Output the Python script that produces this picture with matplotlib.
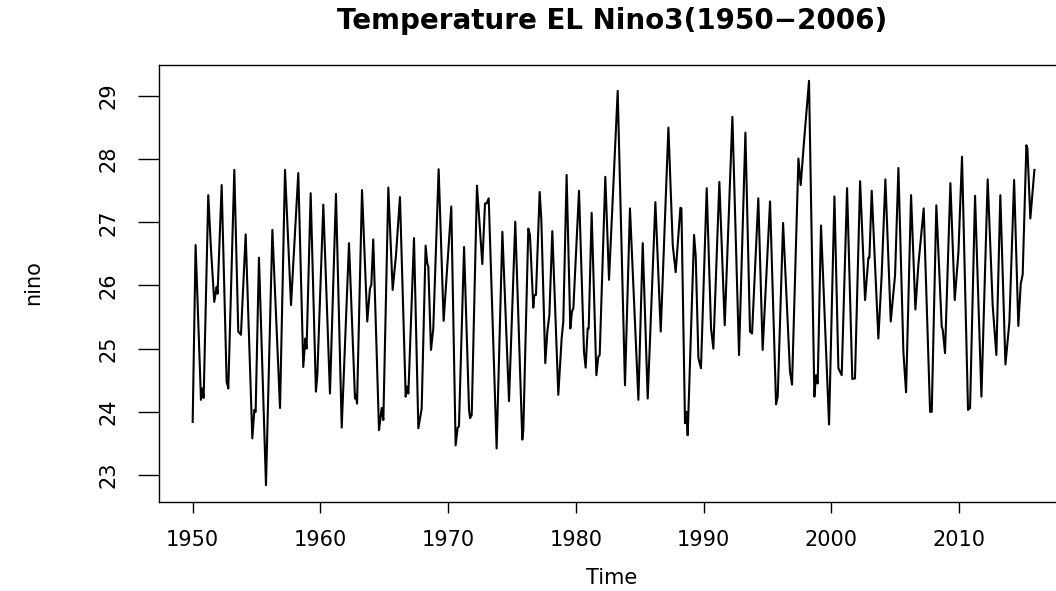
import matplotlib
matplotlib.use("Agg")
import matplotlib.pyplot as plt

# Monthly Nino3 sea surface temperature, sampled at its turning points
time = [
    1950.00, 1950.23, 1950.65, 1950.75, 1950.86, 1951.22, 1951.43, 1951.69, 1951.88, 1951.95,
    1952.27, 1952.66, 1952.79, 1953.26, 1953.57, 1953.78, 1954.15, 1954.67, 1954.83, 1954.93,
    1955.19, 1955.74, 1956.24, 1956.84, 1957.23, 1957.70,
    1958.27, 1958.66, 1958.82, 1958.92, 1959.24, 1959.65, 1959.76, 1960.23, 1960.75, 1961.22,
    1961.67, 1962.24, 1962.71, 1962.79, 1962.87, 1963.26, 1963.67, 1963.88, 1963.99, 1964.14,
    1964.59, 1964.80, 1964.93, 1965.32, 1965.66, 1965.92, 1966.23,
    1966.68, 1966.78, 1966.89, 1967.33, 1967.67, 1967.93, 1968.24, 1968.37, 1968.45, 1968.66,
    1968.84, 1969.26, 1969.65, 1970.25, 1970.59, 1970.75, 1970.85, 1971.25, 1971.64, 1971.72,
    1971.85, 1972.26, 1972.68, 1972.89, 1973.02, 1973.18, 1973.80, 1974.25,
    1974.77, 1975.26, 1975.81, 1975.89, 1976.28, 1976.41, 1976.67, 1976.75, 1976.88, 1977.17,
    1977.30, 1977.61, 1977.77, 1977.93, 1978.16, 1978.63, 1978.89, 1979.02, 1979.28, 1979.57,
    1979.70, 1979.81, 1980.25, 1980.64, 1980.77, 1980.93, 1981.01, 1981.24, 1981.61, 1981.76,
    1981.87, 1982.31,
    1982.60, 1983.28, 1983.85, 1984.24, 1984.90, 1985.24, 1985.63, 1986.23, 1986.65, 1987.25,
    1987.59, 1987.82, 1988.19, 1988.27, 1988.55, 1988.66, 1988.76, 1989.26, 1989.39, 1989.60,
    1989.80, 1990.25, 1990.59, 1990.77,
    1991.24, 1991.66, 1992.26, 1992.78, 1993.28, 1993.64, 1993.80, 1994.29, 1994.63, 1995.21,
    1995.68, 1995.81, 1996.23, 1996.77, 1996.93, 1997.43, 1997.61, 1997.87, 1998.26, 1998.68,
    1998.81, 1998.94,
    1999.20, 1999.83, 2000.25, 2000.56, 2000.82, 2001.24, 2001.65, 2001.86, 2002.26, 2002.65,
    2002.70, 2002.91, 2002.99, 2003.17, 2003.69, 2003.95, 2004.24, 2004.66, 2005.00, 2005.26,
    2005.65, 2005.86, 2006.25, 2006.59, 2006.82, 2006.97, 2007.24,
    2007.74, 2007.87, 2008.23, 2008.65, 2008.73, 2008.91, 2009.33, 2009.67, 2009.96, 2010.24,
    2010.71, 2010.87, 2011.26, 2011.76, 2012.25, 2012.64, 2012.93, 2013.24, 2013.64, 2013.95,
    2014.32, 2014.65, 2014.84, 2014.99, 2015.28, 2015.36, 2015.59, 2015.91,
]
nino = [
    23.84, 26.64, 24.19, 24.37, 24.22, 27.43, 26.59, 25.74, 25.98, 25.87,
    27.59, 24.48, 24.37, 27.83, 25.27, 25.22, 26.81, 23.58, 24.03, 24.00,
    26.44, 22.84, 26.88, 24.06, 27.83, 25.69,
    27.78, 24.71, 25.16, 25.00, 27.46, 24.32, 24.58, 27.28, 24.29, 27.45,
    23.75, 26.67, 24.21, 24.27, 24.13, 27.51, 25.43, 25.95, 26.01, 26.73,
    23.71, 24.06, 23.87, 27.55, 25.93, 26.48, 27.40,
    24.24, 24.40, 24.29, 26.75, 23.74, 24.05, 26.63, 26.35, 26.30, 24.98,
    25.32, 27.84, 25.44, 27.25, 23.47, 23.75, 23.77, 26.61, 24.03, 23.90,
    23.95, 27.58, 26.34, 27.30, 27.30, 27.38, 23.42, 26.85,
    24.17, 27.01, 23.56, 23.71, 26.90, 26.80, 25.65, 25.85, 25.85, 27.48,
    27.04, 24.77, 25.27, 25.53, 26.86, 24.27, 25.16, 25.43, 27.75, 25.32,
    25.59, 25.64, 27.50, 24.95, 24.70, 25.32, 25.32, 27.15, 24.58, 24.87,
    24.90, 27.72,
    26.09, 29.08, 24.42, 27.22, 24.19, 26.67, 24.21, 27.32, 25.27, 28.50,
    26.64, 26.21, 27.23, 27.22, 23.82, 24.00, 23.63, 26.80, 26.46, 24.85,
    24.69, 27.54, 25.32, 25.00,
    27.64, 25.37, 28.67, 24.90, 28.42, 25.27, 25.24, 27.38, 24.98, 27.33,
    24.12, 24.24, 26.99, 24.64, 24.43, 28.01, 27.59, 28.28, 29.24, 24.24,
    24.58, 24.45,
    26.95, 23.80, 27.41, 24.69, 24.58, 27.54, 24.52, 24.53, 27.65, 25.77,
    25.90, 26.44, 26.44, 27.50, 25.16, 26.17, 27.68, 25.43, 26.17, 27.86,
    24.95, 24.31, 27.43, 25.62, 26.32, 26.64, 27.22,
    24.00, 24.00, 27.27, 25.35, 25.30, 24.93, 27.62, 25.77, 26.53, 28.04,
    24.03, 24.06, 27.42, 24.24, 27.68, 25.69, 24.90, 27.43, 24.75, 25.42,
    27.67, 25.36, 26.03, 26.17, 28.22, 28.17, 27.06, 27.83,
]

year_ticks = [1950, 1960, 1970, 1980, 1990, 2000, 2010]
temp_ticks = [23, 24, 25, 26, 27, 28, 29]

plt.rcParams["font.family"] = ["DejaVu Sans"]

W, H = 1056, 591
fig = plt.figure(figsize=(W / 100, H / 100), dpi=100)
ax = fig.add_axes([158.7 / W, (H - 502) / H, (1067.5 - 158.7) / W, (502 - 65) / H])

ax.plot(time, nino, color="black", linewidth=1.5, solid_joinstyle="round")

ax.set_xlim(1947.34, 2018.5)
ax.set_ylim(22.573, 29.49)

ax.set_xticks(year_ticks)
ax.set_xticklabels([str(y) for y in year_ticks], fontsize=15)
ax.set_yticks(temp_ticks)
ax.set_yticklabels([str(t) for t in temp_ticks], fontsize=15, rotation=90, va="center")

ax.tick_params(axis="x", direction="out", length=8, width=1, pad=12, colors="black")
ax.tick_params(axis="y", direction="out", length=15, width=1, pad=14, colors="black")
for s in ax.spines.values():
    s.set_linewidth(1)
    s.set_color("black")

fig.text(612 / W, 1 - 578 / H, "Time", ha="center", va="center", fontsize=15)
fig.text(33 / W, 1 - 283 / H, "nino", ha="center", va="center", fontsize=15, rotation=90)
fig.text(612 / W, 1 - 21 / H, "Temperature EL Nino3(1950\u22122006)",
         ha="center", va="center", fontsize=20, fontweight="bold")

fig.savefig("out.png", dpi=100)
